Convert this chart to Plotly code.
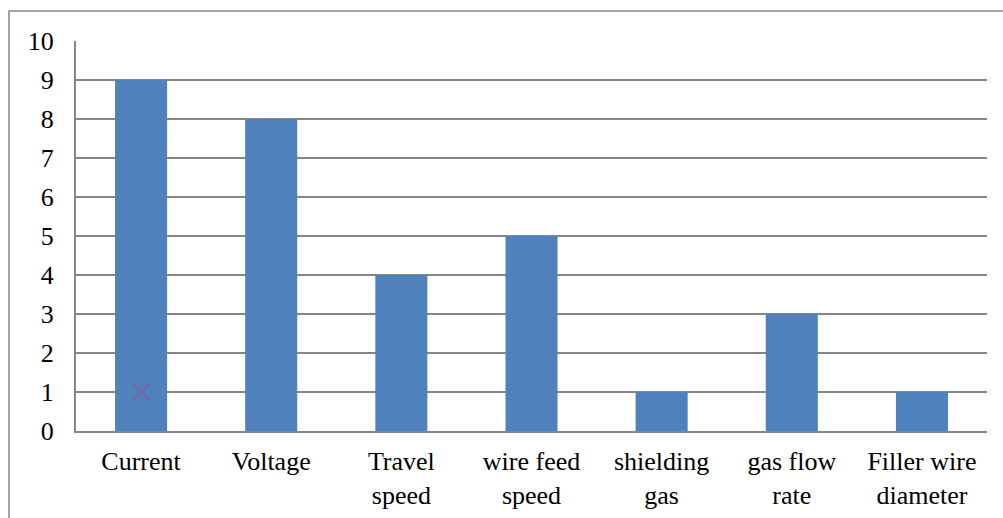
import plotly.graph_objects as go

categories = ["Current", "Voltage", "Travel<br>speed", "wire feed<br>speed",
              "shielding<br>gas", "gas flow<br>rate", "Filler wire<br>diameter"]
values = [9, 8, 4, 5, 1, 3, 1]
marker_cat = ["Current"]
marker_val = [1]
y_ticks = list(range(0, 11))

L, R, T, B = 76, 16, 41, 87
W, H = 1003, 518
pw, ph = W - L - R, H - T - B

fig = go.Figure()
fig.add_trace(go.Bar(x=categories, y=values, marker_color="#4F81BD",
                     marker_line_width=0, showlegend=False))
fig.add_trace(go.Scatter(x=marker_cat, y=marker_val, mode="markers",
                         marker=dict(symbol="x-thin", size=18,
                                     line=dict(color="#8B5A9E", width=1.5)),
                         showlegend=False))

fig.update_layout(
    width=W, height=H,
    margin=dict(l=L, r=R, t=T, b=B, autoexpand=False),
    plot_bgcolor="white", paper_bgcolor="white",
    bargap=0.6,
    font=dict(family="Liberation Serif, Times New Roman, serif", size=26, color="black"),
    xaxis=dict(showgrid=False, showline=True, linecolor="#868686", linewidth=2,
               ticks="", ticklabelstandoff=6, tickfont=dict(size=26), automargin=False),
    yaxis=dict(range=[0, 10], tickvals=y_ticks, showgrid=True, gridcolor="#868686",
               gridwidth=1.5, zeroline=False, showline=True, linecolor="#868686",
               linewidth=2, ticks="", ticklabelstandoff=15, tickfont=dict(size=26),
               automargin=False),
    shapes=[dict(type="rect", xref="paper", yref="paper",
                 x0=(9 - L) / pw, x1=(W + 10 - L) / pw,
                 y0=-(H + 10 - T - ph) / ph, y1=(T + ph - 11) / ph,
                 line=dict(color="#868686", width=1.5), fillcolor="rgba(0,0,0,0)",
                 layer="below")],
)
fig.write_html("out.html", config={"displayModeBar": False},
               post_script="document.body.style.margin='0';document.body.style.overflow='hidden';")
